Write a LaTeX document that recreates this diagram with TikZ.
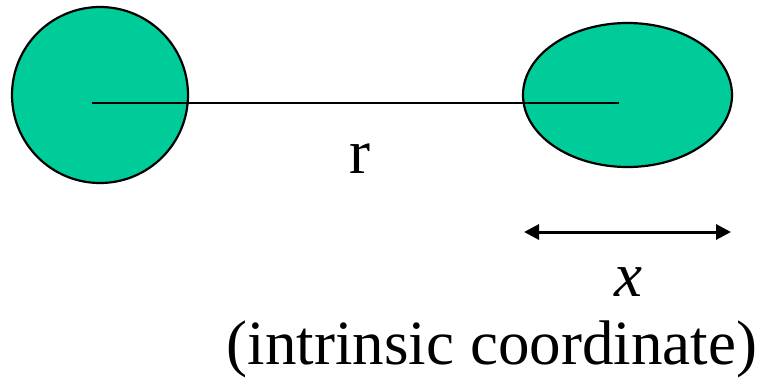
\documentclass[tikz,border=0pt]{standalone}
\usepackage{fontspec}
\setmainfont{Liberation Serif}
\usetikzlibrary{arrows.meta,shapes.geometric}
\definecolor{blobgreen}{RGB}{0,204,153}

\begin{document}
\begin{tikzpicture}[x=1pt,y=-1pt]
\useasboundingbox (0,0) rectangle (762,381);
\tikzset{blob/.style={fill=blobgreen, draw=black, line width=2.2pt, inner sep=0pt},
  lbl/.style={font=\fontsize{63}{72}\selectfont, anchor=base, inner sep=0pt}}
\node[blob, circle, minimum size=176pt] (atomA) at (100,95) {};
\node[blob, ellipse, minimum width=209pt, minimum height=144pt] (atomB) at (627.5,95) {};
\coordinate (bondL) at (92,103);
\coordinate (bondR) at (619,103);
\draw[black, line width=2pt] (bondL) -- (bondR);
\node[lbl] (rlab) at (360,173) {r};
\coordinate (spanL) at (524,232);
\coordinate (spanR) at (731,232);
\draw[black, line width=3pt, {Triangle[length=15pt, width=15pt]}-{Triangle[length=15pt, width=15pt]}] (spanL) -- (spanR);
\node[lbl] (xlab) at (628,296) {\textit{x}};
\node[lbl] (intr) at (492,364) {(intrinsic coordinate)};
\end{tikzpicture}
\end{document}
